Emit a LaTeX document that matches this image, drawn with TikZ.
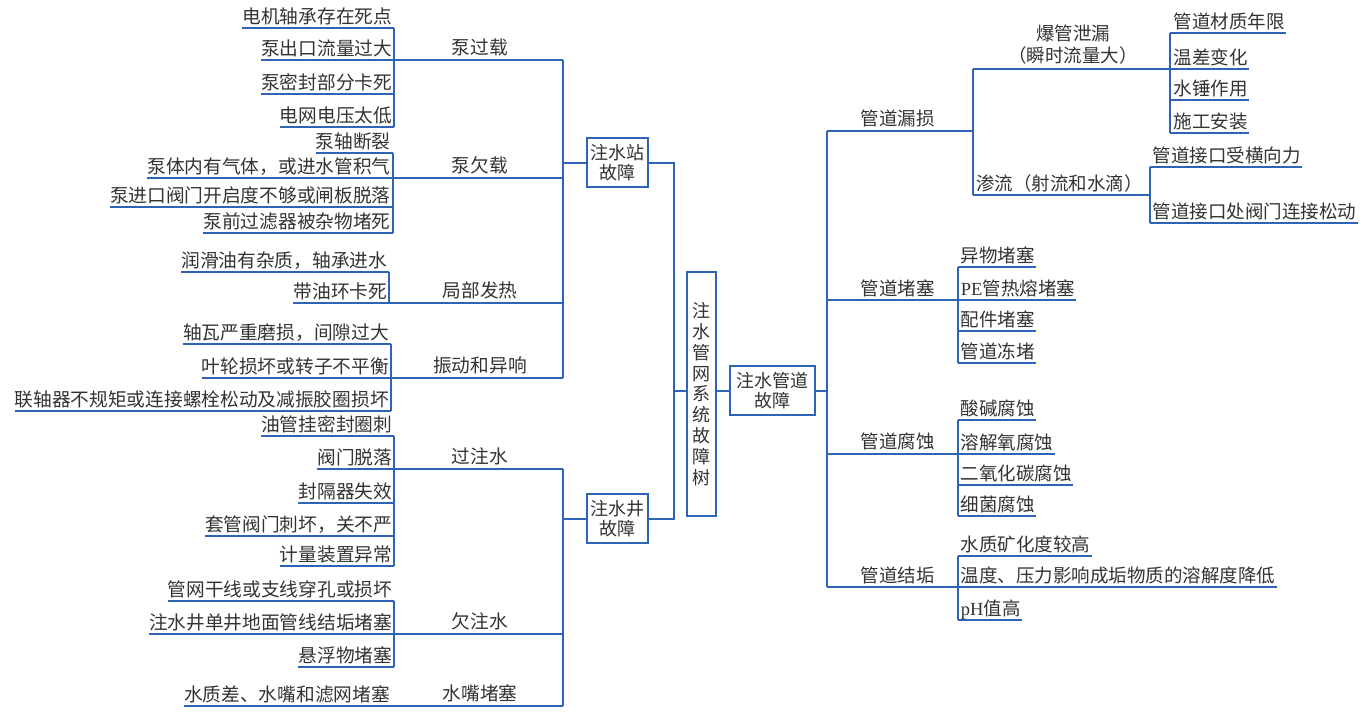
\documentclass[tikz,border=0pt]{standalone}
\usepackage{fontspec}
\setmainfont{Noto Sans CJK SC}
\newfontfamily\lat{Liberation Serif}
\definecolor{lnc}{HTML}{2E64B8}
\definecolor{txc}{HTML}{333333}
\newcommand\lleaf[4]{%
  \node[lf, anchor=base east] (#1) at ({#2-2},{#3-4.5}) {#4};
  \draw[line] (#1.west |- 0,#3) -- (#2,#3);}
\newcommand\rleaf[4]{%
  \node[rf, anchor=base west] (#1) at ({#2+3},{#3-4.5}) {#4};
  \draw[line] (#2,#3) -- ([xshift=1pt]#1.east |- 0,#3);}
\begin{document}
\begin{tikzpicture}[x=1pt,y=-1pt,
  line/.style={draw=lnc, line width=2pt},
  lf/.style={inner sep=0pt, text=txc, font=\fontsize{18.7}{20}\selectfont},
  rf/.style={inner sep=0pt, text=txc, font=\fontsize{18.5}{20}\selectfont},
  box/.style={draw=lnc, line width=2pt, text=txc, align=center, inner sep=0pt,
              font=\fontsize{18}{20}\selectfont, fill=white}]
\useasboundingbox (0,0) rectangle (1371,717);

% ---------- boxes ----------
\node[box, minimum width=61pt, minimum height=49pt] (zz) at (617.5,162.5) {注水站\\故障};
\node[box, minimum width=61pt, minimum height=49pt] (zj) at (617.5,518.5) {注水井\\故障};
\node[box, minimum width=29.5pt, minimum height=244.5pt,
      font=\fontsize{18}{20.8}\selectfont] (root) at (701.7,394) {注\\水\\管\\网\\系\\统\\故\\障\\树};
\node[box, minimum width=84.7pt, minimum height=49pt] (pipe) at (772.7,390.5) {注水管道\\故障};

% ---------- trunk connectors ----------
\coordinate (t1) at (674,0);
\draw[line] (zz.east) -| (t1 |- zj.east) -- (zj.east);
\draw[line] (t1 |- pipe.west) -- (root.west |- pipe.west);
\draw[line] (root.east |- pipe.west) -- (pipe.west);

% ---------- left upper spine ----------
\coordinate (su) at (563,60.5);
\coordinate (sd) at (563,378);
\draw[line] (su) -- (sd);
\draw[line] (zz.west) -- (zz.west -| su);

% group 泵过载
\lleaf{a1}{394.3}{28.3}{电机轴承存在死点}
\lleaf{a2}{394.3}{60.5}{泵出口流量过大}
\lleaf{a3}{394.3}{93.7}{泵密封部分卡死}
\lleaf{a4}{394.3}{127.3}{电网电压太低}
\coordinate (ga) at (394.3,60.5);
\draw[line] (ga |- 0,28.3) -- (ga |- 0,127.3);
\draw[line] (ga) -- (su);
\node[lf, anchor=base] (la) at (480,55) {泵过载};

% group 泵欠载
\lleaf{b1}{392.7}{152.7}{泵轴断裂}
\lleaf{b2}{392.7}{178.3}{泵体内有气体，或进水管积气}
\lleaf{b3}{392.7}{206.7}{泵进口阀门开启度不够或闸板脱落}
\lleaf{b4}{392.7}{233}{泵前过滤器被杂物堵死}
\coordinate (gb) at (392.7,178.3);
\draw[line] (gb |- 0,152.7) -- (gb |- 0,233);
\draw[line] (gb) -- (su |- gb);
\node[lf, anchor=base] (lb) at (480,172.8) {泵欠载};

% group 局部发热
\lleaf{c1}{389.3}{271.7}{润滑油有杂质，轴承进水}
\lleaf{c2}{389.3}{303.3}{带油环卡死}
\coordinate (gc) at (389.3,303.3);
\draw[line] (gc |- 0,271.7) -- (gc);
\draw[line] (gc) -- (su |- gc);
\node[lf, anchor=base] (lc) at (480,297.8) {局部发热};

% group 振动和异响
\lleaf{d1}{391}{344.3}{轴瓦严重磨损，间隙过大}
\lleaf{d2}{391}{378}{叶轮损坏或转子不平衡}
\lleaf{d3}{391}{411}{联轴器不规矩或连接螺栓松动及减振胶圈损坏}
\coordinate (gd) at (391,378);
\draw[line] (gd |- 0,344.3) -- (gd |- 0,411);
\draw[line] (gd) -- (sd);
\node[lf, anchor=base] (ld) at (480,372.5) {振动和异响};

% ---------- left lower spine ----------
\coordinate (tu) at (563,469.2);
\coordinate (td) at (563,705.5);
\draw[line] (tu) -- (td);
\draw[line] (zj.west) -- (zj.west -| tu);

% group 过注水
\lleaf{e1}{394.3}{435.7}{油管挂密封圈刺}
\lleaf{e2}{394.3}{469.2}{阀门脱落}
\lleaf{e3}{394.3}{503.3}{封隔器失效}
\lleaf{e4}{394.3}{536}{套管阀门刺坏，关不严}
\lleaf{e5}{394.3}{566}{计量装置异常}
\coordinate (ge) at (394.3,469.2);
\draw[line] (ge |- 0,435.7) -- (ge |- 0,566);
\draw[line] (ge) -- (tu);
\node[lf, anchor=base] (le) at (480,463.7) {过注水};

% group 欠注水
\lleaf{f1}{394.3}{601}{管网干线或支线穿孔或损坏}
\lleaf{f2}{394.3}{633.8}{注水井单井地面管线结垢堵塞}
\lleaf{f3}{394.3}{666.7}{悬浮物堵塞}
\coordinate (gf) at (394.3,633.8);
\draw[line] (gf |- 0,601) -- (gf |- 0,666.7);
\draw[line] (gf) -- (tu |- gf);
\node[lf, anchor=base] (lf1) at (480,628.3) {欠注水};

% group 水嘴堵塞
\node[lf, anchor=base east] (g1) at (390,701) {水质差、水嘴和滤网堵塞};
\draw[line] (g1.west |- td) -- (td);
\node[lf, anchor=base] (lg) at (480,700) {水嘴堵塞};

% ---------- right spine ----------
\coordinate (ru) at (826.5,131);
\coordinate (rd) at (826.5,587);
\draw[line] (ru) -- (rd);
\draw[line] (pipe.east) -- (pipe.east -| ru);

% 管道漏损
\coordinate (h0) at (973,131);
\draw[line] (ru) -- (h0);
\node[rf, anchor=base] (lh) at (897.6,125.8) {管道漏损};
\coordinate (h1) at (973,69);
\coordinate (h2) at (973,195);
\draw[line] (h1) -- (h2);
% 爆管泄漏
\coordinate (k0) at (1170.4,69);
\draw[line] (h1) -- (k0);
\node[rf, anchor=base] (lk1) at (1073,40.5) {爆管泄漏};
\node[rf, anchor=base] (lk2) at (1073,62.3) {（瞬时流量大）};
\rleaf{k1}{1170.4}{33}{管道材质年限}
\rleaf{k2}{1170.4}{69}{温差变化}
\rleaf{k3}{1170.4}{100}{水锤作用}
\rleaf{k4}{1170.4}{132.7}{施工安装}
\draw[line] (k0 |- 0,33) -- (k0 |- 0,132.7);
% 渗流
\coordinate (m0) at (1149.6,195);
\draw[line] (h2) -- (m0);
\node[rf, anchor=base west] (lm) at (976,190.5) {渗流（射流和水滴）};
\rleaf{m1}{1149.6}{167}{管道接口受横向力}
\rleaf{m2}{1149.6}{223}{管道接口处阀门连接松动}
\draw[line] (m0 |- 0,167) -- (m0 |- 0,223);

% 管道堵塞
\coordinate (p0) at (957.7,300);
\draw[line] (ru |- p0) -- (p0);
\node[rf, anchor=base] (lp) at (897.6,295) {管道堵塞};
\rleaf{p1}{957.7}{267.3}{异物堵塞}
\rleaf{p2}{957.7}{300}{{\lat PE}管热熔堵塞}
\rleaf{p3}{957.7}{331}{配件堵塞}
\rleaf{p4}{957.7}{363.3}{管道冻堵}
\draw[line] (p0 |- 0,267.3) -- (p0 |- 0,363.3);

% 管道腐蚀
\coordinate (q0) at (957.7,453.5);
\draw[line] (ru |- q0) -- (q0);
\node[rf, anchor=base] (lq) at (897.6,448.5) {管道腐蚀};
\rleaf{q1}{957.7}{420}{酸碱腐蚀}
\rleaf{q2}{957.7}{453.5}{溶解氧腐蚀}
\rleaf{q3}{957.7}{485}{二氧化碳腐蚀}
\rleaf{q4}{957.7}{516}{细菌腐蚀}
\draw[line] (q0 |- 0,420) -- (q0 |- 0,516);

% 管道结垢
\coordinate (s0) at (957.7,587);
\draw[line] (rd) -- (s0);
\node[rf, anchor=base] (ls) at (897.6,582) {管道结垢};
\rleaf{s1}{957.7}{556}{水质矿化度较高}
\rleaf{s2}{957.7}{587}{温度、压力影响成垢物质的溶解度降低}
\rleaf{s3}{957.7}{620}{{\lat pH}值高}
\draw[line] (s0 |- 0,556) -- (s0 |- 0,620);
\end{tikzpicture}
\end{document}
